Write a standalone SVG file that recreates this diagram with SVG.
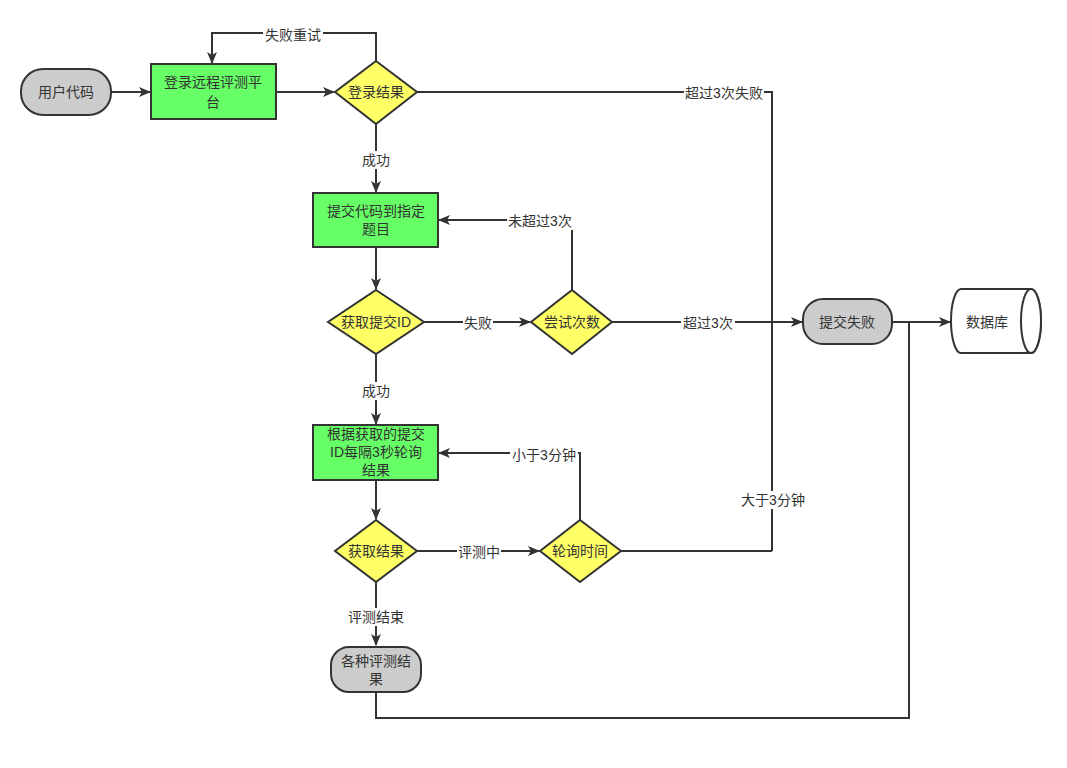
<svg xmlns="http://www.w3.org/2000/svg" width="1067" height="768" viewBox="0 0 1067 768">
<style>
.n{stroke:#333;stroke-width:2}
.g{fill:#ccc}
.gr{fill:#66ff66}
.y{fill:#ffff66}
.t{font-family:"Liberation Sans","Noto Sans CJK SC",sans-serif;font-size:14px;fill:#333;text-anchor:middle;dominant-baseline:central}
.e{fill:none;stroke:#333;stroke-width:2}
.lb{fill:#fff}
</style>
<defs>
<marker id="a" markerWidth="12" markerHeight="10" refX="11" refY="5" orient="auto" markerUnits="userSpaceOnUse">
<path d="M0,0 L12,5 L0,10 L3,5 z" fill="#333"/>
</marker>
</defs>
<rect width="1067" height="768" fill="#fff"/>
<g id="edges">
<path class="e" d="M111,92 L150,92" marker-end="url(#a)"/>
<path class="e" d="M276,92 L334,92" marker-end="url(#a)"/>
<path class="e" d="M376,61 L376,33 L212,33 L212,63" marker-end="url(#a)"/>
<path class="e" d="M417,92 L772,92 L772,551"/>
<path class="e" d="M376,124 L376,192" marker-end="url(#a)"/>
<path class="e" d="M376,247 L376,289" marker-end="url(#a)"/>
<path class="e" d="M423,322 L530,322" marker-end="url(#a)"/>
<path class="e" d="M572,290 L572,220 L439,220" marker-end="url(#a)"/>
<path class="e" d="M611,322 L802,322" marker-end="url(#a)"/>
<path class="e" d="M376,354 L376,424" marker-end="url(#a)"/>
<path class="e" d="M376,480 L376,519" marker-end="url(#a)"/>
<path class="e" d="M580,520 L580,453 L439,453" marker-end="url(#a)"/>
<path class="e" d="M417,551 L539,551" marker-end="url(#a)"/>
<path class="e" d="M621,551 L772,551"/>
<path class="e" d="M376,582 L376,645" marker-end="url(#a)"/>
<path class="e" d="M892,322 L950,322" marker-end="url(#a)"/>
<path class="e" d="M376,692 L376,718 L909,718 L909,322"/>
<g>
<rect class="lb" x="263" y="26" width="60" height="18"/>
<text class="t" x="293" y="35">失败重试</text>
<rect class="lb" x="684" y="84" width="80" height="18"/>
<text class="t" x="724" y="93">超过3次失败</text>
<rect class="lb" x="362" y="151" width="28" height="18"/>
<text class="t" x="376" y="160">成功</text>
<rect class="lb" x="507" y="212" width="66" height="18"/>
<text class="t" x="540" y="221">未超过3次</text>
<rect class="lb" x="463" y="314" width="30" height="18"/>
<text class="t" x="478" y="323">失败</text>
<rect class="lb" x="681" y="314" width="54" height="18"/>
<text class="t" x="708" y="323">超过3次</text>
<rect class="lb" x="362" y="382" width="28" height="18"/>
<text class="t" x="376" y="391">成功</text>
<rect class="lb" x="510" y="446" width="68" height="18"/>
<text class="t" x="544" y="455">小于3分钟</text>
<rect class="lb" x="457" y="543" width="44" height="18"/>
<text class="t" x="479" y="552">评测中</text>
<rect class="lb" x="739" y="491" width="68" height="18"/>
<text class="t" x="773" y="500">大于3分钟</text>
<rect class="lb" x="347" y="608" width="58" height="18"/>
<text class="t" x="376" y="617">评测结束</text>
</g>
</g>
<g id="user-code">
<rect class="n g" x="21" y="69" width="90" height="46" rx="22" ry="22"/>
<text class="t" x="66" y="92">用户代码</text>
</g>
<g id="login">
<rect class="n gr" x="151" y="64" width="125" height="55"/>
<text class="t" x="213" y="82">登录远程评测平</text>
<text class="t" x="213" y="102">台</text>
</g>
<g id="login-result">
<path class="n y" d="M376,61 L417,92 L376,124 L335,92 z"/>
<text class="t" x="376" y="92">登录结果</text>
</g>
<g id="submit">
<rect class="n gr" x="313" y="193" width="125" height="54"/>
<text class="t" x="376" y="211">提交代码到指定</text>
<text class="t" x="376" y="229">题目</text>
</g>
<g id="get-id">
<path class="n y" d="M376,290 L424,322 L376,354 L328,322 z"/>
<text class="t" x="376" y="322">获取提交ID</text>
</g>
<g id="try-count">
<path class="n y" d="M572,290 L612,322 L572,354 L531,322 z"/>
<text class="t" x="572" y="322">尝试次数</text>
</g>
<g id="submit-fail">
<rect class="n g" x="803" y="299" width="89" height="45" rx="20" ry="20"/>
<text class="t" x="847" y="322">提交失败</text>
</g>
<g id="database">
<path class="n" fill="#fff" d="M961,289 L1031,289 A10,32 0 0 1 1031,353 L961,353 A10,32 0 0 1 961,289 z"/>
<ellipse class="n" fill="#fff" cx="1031" cy="321" rx="10" ry="32"/>
<text class="t" x="987" y="322">数据库</text>
</g>
<g id="poll">
<rect class="n gr" x="313" y="425" width="125" height="55"/>
<text class="t" x="376" y="434">根据获取的提交</text>
<text class="t" x="376" y="452">ID每隔3秒轮询</text>
<text class="t" x="376" y="470">结果</text>
</g>
<g id="get-result">
<path class="n y" d="M376,520 L417,551 L376,582 L335,551 z"/>
<text class="t" x="376" y="551">获取结果</text>
</g>
<g id="poll-time">
<path class="n y" d="M580,520 L621,551 L580,582 L540,551 z"/>
<text class="t" x="580" y="551">轮询时间</text>
</g>
<g id="results">
<rect class="n g" x="331" y="647" width="90" height="45" rx="18" ry="18"/>
<text class="t" x="376" y="661">各种评测结</text>
<text class="t" x="376" y="679">果</text>
</g>
</svg>
